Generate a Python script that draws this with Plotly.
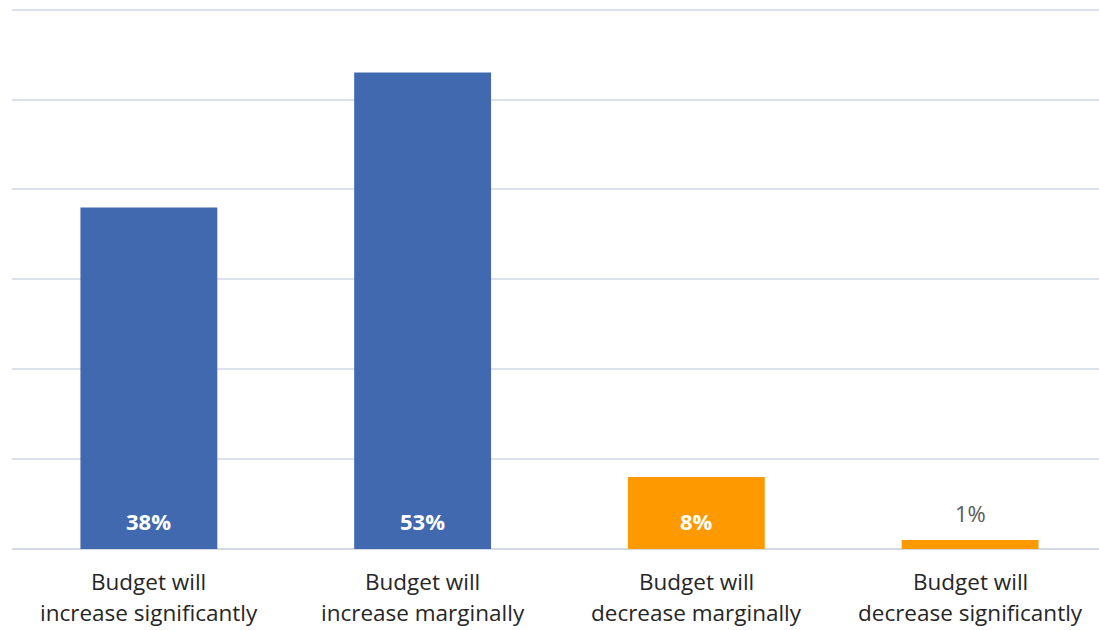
import plotly.graph_objects as go

categories = ["Budget will<br>increase significantly", "Budget will<br>increase marginally",
              "Budget will<br>decrease marginally", "Budget will<br>decrease significantly"]
values = [38, 53, 8, 1]
labels = ["38%", "53%", "8%", "1%"]
colors = ["#4169B0", "#4169B0", "#FF9900", "#FF9900"]
y_ticks = [0, 10, 20, 30, 40, 50, 60]

FONT = "Open Sans"

fig = go.Figure()
fig.add_trace(go.Bar(
    x=list(range(len(categories))), y=values,
    marker=dict(color=colors, line=dict(width=0)),
    width=0.5, hoverinfo="skip",
))

annotations = []
for i, (v, lab) in enumerate(zip(values, labels)):
    inside = v >= 5
    annotations.append(dict(
        x=i, y=0 if inside else v, xref="x", yref="y",
        text=f"<b>{lab}</b>" if inside else lab,
        showarrow=False,
        yshift=28 if inside else 27,
        font=dict(family=FONT, size=22, color="#FFFFFF" if inside else "#595959"),
    ))
for i, cat in enumerate(categories):
    l1, l2 = cat.split("<br>")
    for j, line in enumerate((l1, l2)):
        annotations.append(dict(
            x=i, y=0, xref="x", yref="paper", text=line, showarrow=False,
            yshift=-50 - 31 * j,
            font=dict(family=FONT, size=22.5, color="#262626"),
        ))

fig.update_layout(
    width=1099, height=630,
    margin=dict(l=12, r=0, t=7, b=81),
    paper_bgcolor="white", plot_bgcolor="white",
    showlegend=False,
    annotations=annotations,
    xaxis=dict(range=[-0.5, 3.471], showticklabels=False, showgrid=False,
               zeroline=False, showline=False, fixedrange=True),
    yaxis=dict(range=[0, 60.3], tickvals=y_ticks, showticklabels=False,
               showgrid=True, gridcolor="#DDE1EC", gridwidth=2,
               zeroline=True, zerolinecolor="#D3D8E3", zerolinewidth=2,
               showline=False, fixedrange=True),
)

fig.write_html("out.html")
